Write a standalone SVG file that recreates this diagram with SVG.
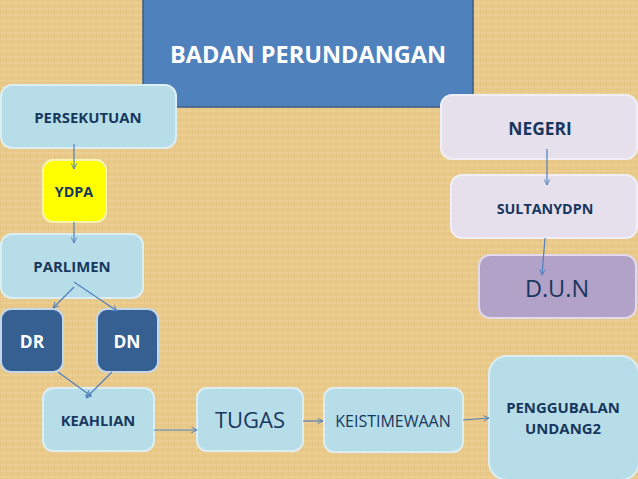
<svg xmlns="http://www.w3.org/2000/svg" width="638" height="479" viewBox="0 0 638 479">
<style>
.lb{fill:#B7DEE8;stroke:#DDEEF3;stroke-width:2}
.db{fill:#376092;stroke:#C5D6E8;stroke-width:2}
.t{font-family:"Open Sans","Liberation Sans",sans-serif;fill:#17375E;text-anchor:middle}
.b{font-weight:bold}
.w{fill:#FFFFFF}
.c line{stroke:#4F81BD;stroke-width:1.2;fill:none;marker-end:url(#ah)}
</style>
<defs>
<marker id="ah" viewBox="0 0 10 10" refX="9" refY="5" markerWidth="7" markerHeight="7" orient="auto" markerUnits="userSpaceOnUse">
<path d="M1,1 L9,5 L1,9" fill="none" stroke="#4F81BD" stroke-width="1.3"/>
</marker>
<pattern id="tex" width="6" height="6" patternUnits="userSpaceOnUse">
<rect width="6" height="6" fill="#E9C98A"/>
<line x1="0" y1="0" x2="0" y2="6" stroke="#D6B372" stroke-width="1" opacity="0.5"/>
<line x1="0" y1="3" x2="6" y2="3" stroke="#F3DCA8" stroke-width="1" opacity="0.5"/>
</pattern>
</defs>
<rect width="638" height="479" fill="url(#tex)"/>

<g id="title">
<rect x="143" y="-2" width="330" height="109" fill="#4F81BD" stroke="#385D8A" stroke-width="1.5"/>
<text x="308" y="63" class="t b w" font-size="23.5">BADAN PERUNDANGAN</text>
</g>

<g id="persekutuan">
<rect x="1" y="85" width="175" height="63" rx="11" class="lb"/>
<text x="88" y="123" class="t b" font-size="14.9">PERSEKUTUAN</text>
</g>

<g id="ydpa">
<rect x="43" y="160" width="63" height="62" rx="10" fill="#FFFF00" stroke="#F4F4B0" stroke-width="2"/>
<text x="74" y="197" class="t b" font-size="14.3">YDPA</text>
</g>

<g id="parlimen">
<rect x="1" y="234" width="142" height="64" rx="11" class="lb"/>
<text x="72" y="272" class="t b" font-size="14.9">PARLIMEN</text>
</g>

<g id="dr">
<rect x="1" y="309" width="62" height="63" rx="10" class="db"/>
<text x="32" y="348" class="t b w" font-size="17.4">DR</text>
</g>

<g id="dn">
<rect x="97" y="309" width="61" height="63" rx="10" class="db"/>
<text x="127" y="348" class="t b w" font-size="17.4">DN</text>
</g>

<g id="keahlian">
<rect x="43" y="388" width="111" height="63" rx="10" class="lb"/>
<text x="98" y="426" class="t b" font-size="14.7">KEAHLIAN</text>
</g>

<g id="tugas">
<rect x="197" y="388" width="106" height="63" rx="10" class="lb"/>
<text x="250" y="428" class="t" font-size="22">TUGAS</text>
</g>

<g id="keistimewaan">
<rect x="324" y="388" width="139" height="64" rx="10" class="lb"/>
<text x="393" y="427" class="t" font-size="16">KEISTIMEWAAN</text>
</g>

<g id="penggubalan">
<rect x="489" y="356" width="150" height="124" rx="18" class="lb"/>
<text x="563" y="413" class="t b" font-size="14.9">PENGGUBALAN</text>
<text x="563" y="434" class="t b" font-size="14.9">UNDANG2</text>
</g>

<g id="negeri">
<rect x="441" y="95" width="196" height="64" rx="11" fill="#E6E0EC" stroke="#F2EEF5" stroke-width="2"/>
<text x="540" y="135" class="t b" font-size="17.4">NEGERI</text>
</g>

<g id="sultanydpn">
<rect x="451" y="175" width="186" height="63" rx="11" fill="#E6E0EC" stroke="#F2EEF5" stroke-width="2"/>
<text x="545" y="214" class="t b" font-size="14.3">SULTANYDPN</text>
</g>

<g id="dun">
<rect x="479" y="255" width="157" height="63" rx="11" fill="#B3A2C7" stroke="#E2DAEC" stroke-width="2"/>
<text x="557" y="297" class="t" font-size="23.5">D.U.N</text>
</g>

<g id="connectors" class="c">
<line x1="74" y1="144" x2="74" y2="169"/>
<line x1="74" y1="222" x2="74" y2="243"/>
<line x1="74" y1="287" x2="53" y2="308"/>
<line x1="74" y1="282" x2="117" y2="311"/>
<line x1="58" y1="372" x2="91" y2="396"/>
<line x1="112" y1="372" x2="86" y2="398"/>
<line x1="154" y1="430" x2="197" y2="430"/>
<line x1="303" y1="421" x2="323" y2="421"/>
<line x1="463" y1="420" x2="489" y2="418"/>
<line x1="547" y1="149" x2="547" y2="185"/>
<line x1="545" y1="238" x2="542" y2="275"/>
</g>
</svg>
